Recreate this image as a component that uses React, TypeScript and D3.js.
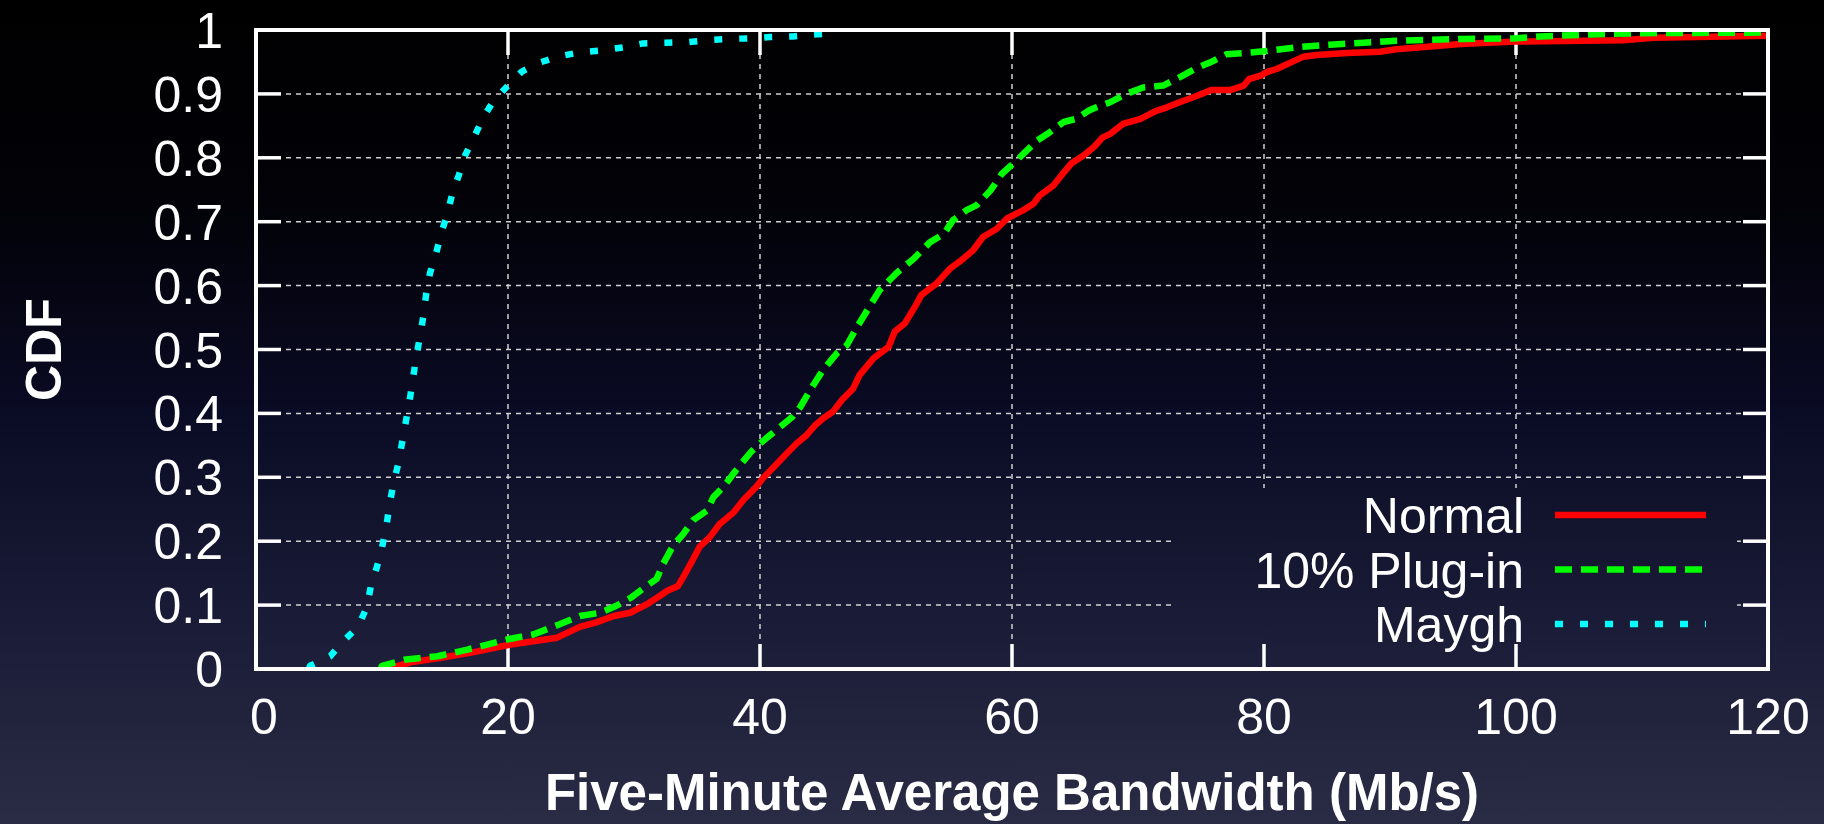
import React from 'react';
import * as d3 from 'd3';

// tick values
const xTicks = [0, 20, 40, 60, 80, 100, 120];
const yTicks = [0, 0.1, 0.2, 0.3, 0.4, 0.5, 0.6, 0.7, 0.8, 0.9, 1];

const seriesNames = ['Normal', '10% Plug-in', 'Maygh'];

// Normal
const normalMbps = [10.8, 10.9, 12.4, 14.8, 17.2, 20.1, 23.9, 25.7, 27.0, 28.4, 29.7, 31.0, 32.1, 32.6, 33.5, 34.05, 34.7, 35.2, 36.0, 36.8, 37.9, 38.7, 39.7, 40.3, 41.1, 42.1, 42.9, 43.7, 44.4, 45.0, 45.8, 46.5, 47.4, 47.9, 49.0, 50.2, 50.7, 51.5, 52.3, 52.8, 54.0, 55.1, 56.0, 56.9, 57.7, 58.8, 59.6, 60.9, 61.7, 62.2, 63.3, 63.9, 64.7, 65.7, 66.5, 67.2, 67.8, 68.8, 70.2, 71.4, 72.3, 73.3, 74.7, 75.8, 77.3, 78.4, 78.8, 79.8, 80.2, 81.0, 82.1, 83.1, 84.2, 86.6, 89.2, 90.5, 93.2, 95.6, 100, 108.5, 110.9, 120];
const normalCdf = [0, 0.003, 0.011, 0.018, 0.026, 0.038, 0.049, 0.066, 0.073, 0.083, 0.088, 0.101, 0.115, 0.122, 0.130, 0.149, 0.172, 0.191, 0.206, 0.227, 0.245, 0.265, 0.285, 0.300, 0.316, 0.337, 0.353, 0.366, 0.382, 0.392, 0.403, 0.421, 0.439, 0.460, 0.486, 0.504, 0.528, 0.541, 0.567, 0.585, 0.603, 0.627, 0.640, 0.655, 0.676, 0.689, 0.705, 0.718, 0.728, 0.741, 0.757, 0.772, 0.791, 0.804, 0.817, 0.832, 0.8375, 0.853, 0.861, 0.873, 0.879, 0.887, 0.897, 0.906, 0.906, 0.913, 0.923, 0.929, 0.934, 0.939, 0.949, 0.958, 0.961, 0.964, 0.966, 0.970, 0.974, 0.978, 0.982, 0.984, 0.988, 0.991];

// 10% Plug-in
const pluginMbps = [9.9, 10.0, 11.9, 14.4, 16.7, 18.5, 20.1, 22.0, 24.1, 25.7, 27.3, 28.6, 29.8, 31.0, 31.8, 32.3, 33.1, 33.9, 34.7, 35.8, 36.3, 37.1, 37.9, 38.5, 39.3, 40.0, 40.8, 41.6, 42.6, 43.2, 44.0, 45.0, 46.1, 46.9, 47.7, 48.5, 49.5, 50.8, 52.2, 53.5, 54.6, 55.3, 56.4, 57.2, 58.3, 59.2, 60.1, 60.9, 62.0, 63.0, 64.1, 65.1, 66.1, 66.7, 67.8, 69.1, 70.4, 72.0, 73.3, 74.7, 75.7, 77.0, 78.6, 80.2, 82.6, 85.2, 87.9, 90.5, 95.6, 100.1, 101.9, 105.9, 109.8, 120];
const pluginCdf = [0, 0.005, 0.015, 0.02, 0.03, 0.039, 0.047, 0.054, 0.070, 0.083, 0.088, 0.099, 0.112, 0.130, 0.141, 0.164, 0.193, 0.211, 0.233, 0.248, 0.269, 0.285, 0.306, 0.321, 0.340, 0.353, 0.366, 0.379, 0.395, 0.410, 0.437, 0.468, 0.494, 0.507, 0.535, 0.561, 0.593, 0.619, 0.642, 0.668, 0.681, 0.702, 0.718, 0.726, 0.749, 0.775, 0.791, 0.806, 0.827, 0.840, 0.856, 0.861, 0.874, 0.879, 0.887, 0.900, 0.910, 0.913, 0.926, 0.941, 0.949, 0.962, 0.964, 0.967, 0.973, 0.977, 0.980, 0.983, 0.986, 0.987, 0.990, 0.993, 0.995, 0.996];

// Maygh
const mayghMbps = [4.2, 4.3, 5.9, 6.9, 8.1, 8.8, 9.1, 9.6, 10.0, 10.35, 10.6, 10.9, 11.3, 11.6, 11.9, 12.2, 12.45, 12.7, 13.0, 13.3, 13.5, 13.8, 14.3, 14.7, 15.2, 15.6, 16.1, 16.6, 17.3, 18.0, 18.85, 19.9, 21.1, 22.5, 24.1, 25.7, 27.4, 29.2, 30.7, 32.5, 34.2, 35.8, 37.5, 39.2, 40.8, 42.6, 44.2, 46.2];
const mayghCdf = [0, 0.005, 0.02, 0.043, 0.066, 0.097, 0.128, 0.16, 0.19, 0.224, 0.257, 0.29, 0.322, 0.355, 0.388, 0.421, 0.453, 0.486, 0.519, 0.554, 0.586, 0.619, 0.651, 0.682, 0.713, 0.746, 0.773, 0.804, 0.832, 0.862, 0.889, 0.911, 0.935, 0.949, 0.959, 0.965, 0.968, 0.973, 0.979, 0.980, 0.981, 0.984, 0.986, 0.987, 0.989, 0.990, 0.993, 0.995];

const W = 1824;
const H = 824;
const margin = { top: 30, right: 56, bottom: 155, left: 256 };
const font = "'Liberation Sans', Arial, Helvetica, sans-serif";

const series = [
  { name: seriesNames[0], xs: normalMbps, ys: normalCdf, color: '#ff0000', dash: 'none' },
  { name: seriesNames[1], xs: pluginMbps, ys: pluginCdf, color: '#00ff00', dash: '17,9' },
  { name: seriesNames[2], xs: mayghMbps, ys: mayghCdf, color: '#00ffff', dash: '8,17' },
];

export default function App() {
  const x = d3.scaleLinear().domain([0, 120]).range([margin.left, W - margin.right]);
  const y = d3.scaleLinear().domain([0, 1]).range([H - margin.bottom, margin.top]);
  const [x0, x1] = x.range();
  const [y0, y1] = y.range();

  const line = d3.line<number>()
    .x(d => d[0])
    .y(d => d[1]);

  const pathFor = (s) => line(s.xs.map((v, i) => [x(v), y(s.ys[i])]) as any);

  const tickLen = 25;
  const keyRows = [515, 569.5, 624];

  return (
    <svg width={W} height={H} style={{ position: 'absolute', left: 0, top: 0, display: 'block' }} fontFamily={font}>
      <defs>
        <linearGradient id="bg" gradientUnits="userSpaceOnUse" x1="0" y1="0" x2="0" y2={H}>
          <stop offset="0" stopColor="#000000" />
          <stop offset="0.25" stopColor="#020208" />
          <stop offset="0.5" stopColor="#0a0b24" />
          <stop offset="0.75" stopColor="#1a1b36" />
          <stop offset="1" stopColor="#2a2c45" />
        </linearGradient>
      </defs>
      <rect x={0} y={0} width={W} height={H} fill="url(#bg)" />

      {/* grid */}
      <g stroke="#d0d0d0" strokeWidth={1.5} strokeDasharray="5,5">
        {yTicks.slice(1, -1).map(t => (
          <line key={'gy' + t} x1={x0} x2={x1} y1={y(t)} y2={y(t)} />
        ))}
        {xTicks.slice(1, -1).map(t => (
          <line key={'gx' + t} x1={x(t)} x2={x(t)} y1={y0} y2={y1} />
        ))}
      </g>

      {/* opaque key box */}
      <rect x={1176} y={488} width={561} height={164} fill="url(#bg)" />

      {/* ticks, mirrored */}
      <g stroke="#fff" strokeWidth={3.5}>
        {yTicks.map(t => (
          <g key={'ty' + t}>
            <line x1={x0} x2={x0 + tickLen} y1={y(t)} y2={y(t)} />
            <line x1={x1} x2={x1 - tickLen} y1={y(t)} y2={y(t)} />
          </g>
        ))}
        {xTicks.map(t => (
          <g key={'tx' + t}>
            <line x1={x(t)} x2={x(t)} y1={y0} y2={y0 - tickLen} />
            <line x1={x(t)} x2={x(t)} y1={y1} y2={y1 + tickLen} />
          </g>
        ))}
      </g>

      {/* curves */}
      {series.map(s => (
        <path key={s.name} d={pathFor(s)} fill="none" stroke={s.color} strokeWidth={6.5}
          strokeDasharray={s.dash === 'none' ? undefined : s.dash} strokeLinejoin="round" />
      ))}

      {/* border */}
      <rect x={x0} y={y1} width={x1 - x0} height={y0 - y1} fill="none" stroke="#fff" strokeWidth={4} />

      {/* tick labels */}
      <g fill="#fff" fontSize={50}>
        {yTicks.map(t => (
          <text key={'ly' + t} x={x0 - 33} y={y(t)} dy="0.36em" textAnchor="end">{d3.format('~g')(t)}</text>
        ))}
        {xTicks.map(t => (
          <text key={'lx' + t} x={x(t) + (t === 0 ? 8 : 0)} y={734} textAnchor="middle">{t}</text>
        ))}
      </g>

      {/* axis titles */}
      <text x={(x0 + x1) / 2} y={810} textAnchor="middle" fill="#fff" fontSize={51} fontWeight="bold">
        Five-Minute Average Bandwidth (Mb/s)
      </text>
      <text transform={`translate(61, ${(y0 + y1) / 2}) rotate(-90)`} textAnchor="middle" fill="#fff" fontSize={50} fontWeight="bold">
        CDF
      </text>

      {/* key */}
      {series.map((s, i) => (
        <g key={'key' + s.name}>
          <text x={1524} y={keyRows[i]} dy="0.36em" textAnchor="end" fill="#fff" fontSize={50}>{s.name}</text>
          <line x1={1555} x2={1706} y1={keyRows[i]} y2={keyRows[i]} stroke={s.color} strokeWidth={6.5}
            strokeDasharray={s.dash === 'none' ? undefined : s.dash} />
        </g>
      ))}
    </svg>
  );
}
